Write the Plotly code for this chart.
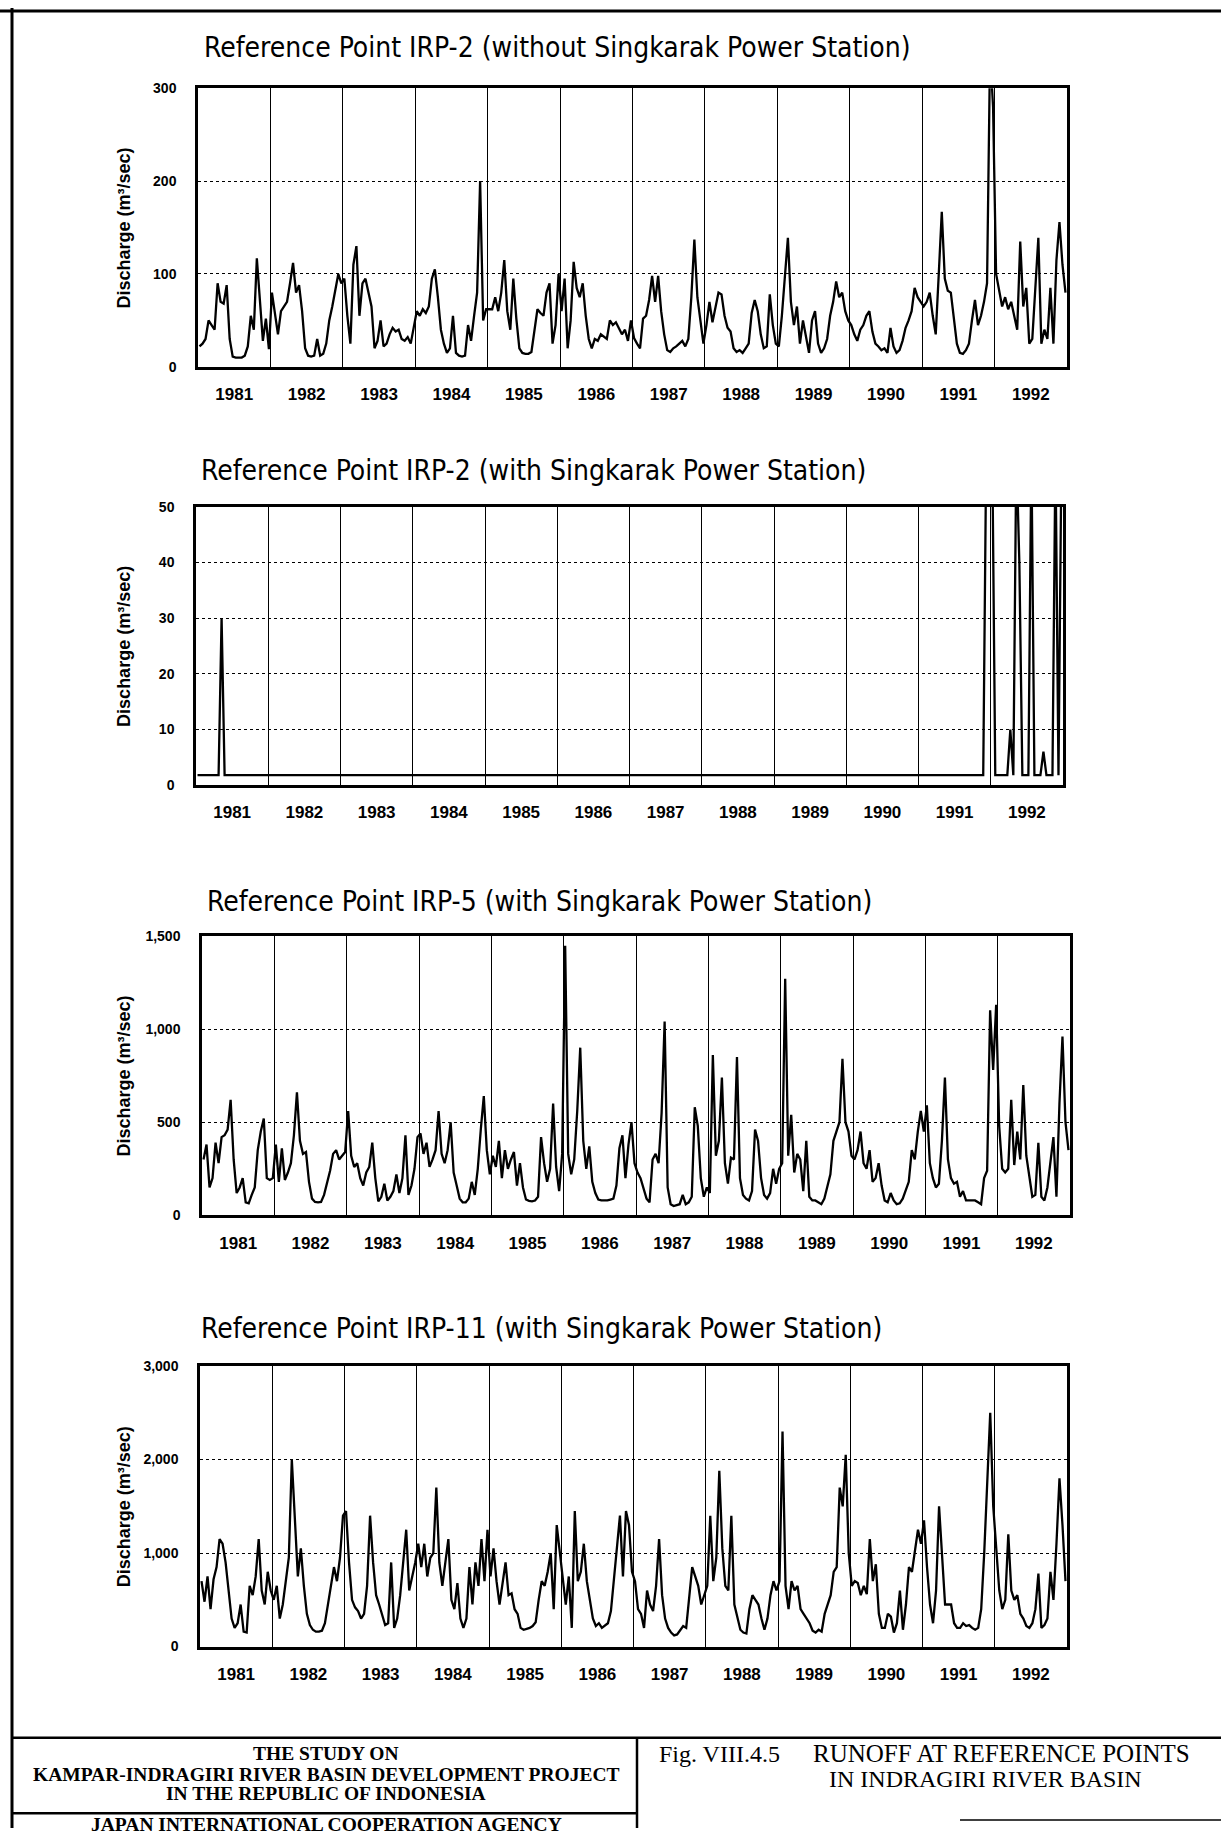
import plotly.graph_objects as go

W, H = 1221, 1836
years = [1981, 1982, 1983, 1984, 1985, 1986, 1987, 1988, 1989, 1990, 1991, 1992]
year_labels = ["1981", "1982", "1983", "1984", "1985", "1986",
               "1987", "1988", "1989", "1990", "1991", "1992"]
PER_YEAR = 24  # half-monthly readings

# Reference Point IRP-2 (without Singkarak Power Station), m3/sec
irp2_without = [
    22, 25, 30, 50, 45, 40, 90, 70, 68, 88, 30, 11, 10, 10, 10, 12, 22, 55, 40, 117, 75, 28, 52, 19,
    80, 55, 35, 60, 65, 70, 90, 112, 80, 88, 60, 20, 12, 11, 12, 30, 12, 14, 25, 50, 65, 85, 100, 90,
    95, 55, 25, 110, 130, 55, 90, 95, 78, 65, 20, 28, 50, 22, 25, 35, 42, 38, 40, 30, 28, 32, 25, 45,
    60, 55, 62, 58, 65, 95, 105, 75, 40, 25, 15, 20, 55, 15, 12, 11, 12, 45, 28, 55, 80, 200, 50, 62,
    62, 62, 75, 60, 80, 115, 60, 40, 95, 52, 20, 15, 14, 14, 16, 40, 62, 58, 55, 80, 90, 25, 45, 100,
    60, 95, 20, 50, 113, 85, 75, 90, 55, 30, 20, 30, 28, 35, 32, 30, 50, 45, 48, 42, 35, 40, 28, 50,
    31, 25, 20, 52, 55, 72, 98, 70, 98, 60, 35, 18, 16, 20, 22, 25, 28, 22, 30, 75, 137, 75, 50, 25,
    45, 70, 48, 65, 80, 78, 55, 42, 38, 20, 16, 18, 15, 20, 25, 58, 72, 60, 35, 20, 22, 78, 45, 25,
    22, 55, 100, 139, 70, 45, 65, 25, 50, 30, 15, 50, 60, 25, 15, 20, 30, 55, 70, 92, 75, 80, 60, 50,
    45, 35, 28, 40, 45, 55, 60, 38, 25, 22, 18, 20, 15, 42, 22, 15, 18, 28, 42, 50, 60, 85, 75, 70,
    65, 70, 80, 55, 35, 100, 167, 95, 82, 80, 55, 25, 15, 14, 18, 25, 50, 72, 45, 55, 70, 90, 340, 280,
    100, 80, 65, 75, 62, 70, 55, 40, 135, 65, 85, 25, 30, 80, 139, 25, 40, 30, 85, 25, 115, 156, 110, 80,
]

# Reference Point IRP-2 (with Singkarak Power Station), m3/sec
irp2_with = [
    1.8, 1.8, 1.8, 1.8, 1.8, 1.8, 1.8, 1.8, 30, 1.8, 1.8, 1.8, 1.8, 1.8, 1.8, 1.8, 1.8, 1.8, 1.8, 1.8, 1.8, 1.8, 1.8, 1.8,
    1.8, 1.8, 1.8, 1.8, 1.8, 1.8, 1.8, 1.8, 1.8, 1.8, 1.8, 1.8, 1.8, 1.8, 1.8, 1.8, 1.8, 1.8, 1.8, 1.8, 1.8, 1.8, 1.8, 1.8,
    1.8, 1.8, 1.8, 1.8, 1.8, 1.8, 1.8, 1.8, 1.8, 1.8, 1.8, 1.8, 1.8, 1.8, 1.8, 1.8, 1.8, 1.8, 1.8, 1.8, 1.8, 1.8, 1.8, 1.8,
    1.8, 1.8, 1.8, 1.8, 1.8, 1.8, 1.8, 1.8, 1.8, 1.8, 1.8, 1.8, 1.8, 1.8, 1.8, 1.8, 1.8, 1.8, 1.8, 1.8, 1.8, 1.8, 1.8, 1.8,
    1.8, 1.8, 1.8, 1.8, 1.8, 1.8, 1.8, 1.8, 1.8, 1.8, 1.8, 1.8, 1.8, 1.8, 1.8, 1.8, 1.8, 1.8, 1.8, 1.8, 1.8, 1.8, 1.8, 1.8,
    1.8, 1.8, 1.8, 1.8, 1.8, 1.8, 1.8, 1.8, 1.8, 1.8, 1.8, 1.8, 1.8, 1.8, 1.8, 1.8, 1.8, 1.8, 1.8, 1.8, 1.8, 1.8, 1.8, 1.8,
    1.8, 1.8, 1.8, 1.8, 1.8, 1.8, 1.8, 1.8, 1.8, 1.8, 1.8, 1.8, 1.8, 1.8, 1.8, 1.8, 1.8, 1.8, 1.8, 1.8, 1.8, 1.8, 1.8, 1.8,
    1.8, 1.8, 1.8, 1.8, 1.8, 1.8, 1.8, 1.8, 1.8, 1.8, 1.8, 1.8, 1.8, 1.8, 1.8, 1.8, 1.8, 1.8, 1.8, 1.8, 1.8, 1.8, 1.8, 1.8,
    1.8, 1.8, 1.8, 1.8, 1.8, 1.8, 1.8, 1.8, 1.8, 1.8, 1.8, 1.8, 1.8, 1.8, 1.8, 1.8, 1.8, 1.8, 1.8, 1.8, 1.8, 1.8, 1.8, 1.8,
    1.8, 1.8, 1.8, 1.8, 1.8, 1.8, 1.8, 1.8, 1.8, 1.8, 1.8, 1.8, 1.8, 1.8, 1.8, 1.8, 1.8, 1.8, 1.8, 1.8, 1.8, 1.8, 1.8, 1.8,
    1.8, 1.8, 1.8, 1.8, 1.8, 1.8, 1.8, 1.8, 1.8, 1.8, 1.8, 1.8, 1.8, 1.8, 1.8, 1.8, 1.8, 1.8, 1.8, 1.8, 1.8, 1.8, 60, 60,
    60, 1.8, 1.8, 1.8, 1.8, 1.8, 10, 1.8, 60, 40, 1.8, 1.8, 1.8, 60, 1.8, 1.8, 1.8, 6, 1.8, 1.8, 1.8, 60, 1.8, 60,
]

# Reference Point IRP-5 (with Singkarak Power Station), m3/sec
irp5_with = [
    300, 380, 150, 200, 390, 280, 420, 430, 460, 620, 300, 120, 150, 200, 70, 65, 110, 150, 350, 450, 520, 200, 190, 200,
    380, 180, 360, 190, 230, 280, 430, 660, 400, 330, 340, 180, 90, 72, 70, 72, 110, 180, 240, 330, 350, 300, 320, 340,
    560, 320, 260, 280, 200, 160, 230, 260, 390, 200, 75, 100, 170, 80, 100, 130, 220, 120, 200, 430, 110, 160, 250, 420,
    440, 330, 390, 260, 300, 350, 560, 330, 280, 350, 500, 230, 160, 90, 70, 70, 90, 180, 110, 250, 460, 640, 350, 220,
    320, 260, 400, 200, 350, 250, 300, 340, 160, 280, 150, 85, 78, 75, 80, 100, 420, 280, 180, 250, 600, 260, 130, 330,
    1447, 330, 220, 300, 560, 900, 400, 250, 370, 180, 120, 85, 80, 80, 80, 85, 90, 160, 360, 430, 200, 380, 500, 280,
    230, 200, 140, 90, 70, 300, 330, 280, 550, 1040, 150, 60, 50, 55, 60, 110, 60, 70, 100, 580, 480, 200, 100, 150,
    120, 860, 320, 400, 740, 280, 170, 310, 300, 850, 200, 110, 90, 80, 130, 460, 400, 200, 110, 90, 120, 250, 170, 250,
    280, 1270, 320, 540, 230, 330, 300, 130, 400, 100, 80, 80, 70, 60, 90, 150, 220, 400, 450, 500, 840, 500, 450, 320,
    300, 350, 450, 280, 250, 350, 180, 200, 280, 160, 80, 70, 120, 80, 60, 65, 90, 130, 180, 350, 300, 450, 560, 450,
    590, 280, 200, 150, 170, 400, 740, 300, 200, 170, 180, 100, 130, 80, 80, 80, 80, 70, 60, 200, 240, 1100, 780, 1130,
    480, 250, 230, 250, 620, 270, 450, 300, 700, 320, 200, 100, 110, 390, 100, 80, 150, 300, 420, 100, 600, 960, 500, 350,
]

# Reference Point IRP-11 (with Singkarak Power Station), m3/sec
irp11_with = [
    700, 480, 750, 400, 720, 850, 1150, 1100, 900, 600, 300, 200, 250, 450, 160, 150, 650, 550, 750, 1150, 600, 450, 800, 600,
    500, 650, 300, 450, 700, 950, 2000, 1300, 750, 1050, 650, 350, 230, 180, 160, 160, 170, 250, 450, 650, 850, 700, 950, 1400,
    1450, 900, 500, 420, 380, 300, 350, 650, 1400, 900, 550, 450, 350, 230, 250, 900, 200, 300, 550, 900, 1250, 600, 750, 900,
    1100, 850, 1100, 750, 950, 1000, 1700, 900, 650, 900, 1150, 500, 400, 680, 300, 200, 300, 850, 450, 900, 650, 1150, 700, 1250,
    750, 1050, 700, 450, 650, 900, 550, 570, 400, 350, 200, 180, 190, 200, 220, 260, 500, 700, 650, 800, 1000, 400, 1300, 1000,
    750, 450, 750, 200, 1450, 700, 800, 1100, 700, 500, 300, 220, 250, 200, 230, 250, 380, 700, 1050, 1400, 750, 1450, 1300, 800,
    700, 400, 350, 200, 600, 450, 380, 650, 1150, 550, 300, 200, 150, 120, 130, 170, 220, 200, 500, 850, 750, 650, 450, 550,
    650, 1400, 700, 950, 1880, 1050, 650, 600, 1400, 450, 300, 180, 150, 140, 400, 550, 500, 450, 300, 180, 300, 550, 700, 600,
    700, 2300, 650, 400, 700, 600, 650, 400, 350, 300, 250, 170, 150, 180, 160, 350, 450, 550, 800, 850, 1700, 1500, 2050, 1000,
    650, 700, 680, 550, 650, 560, 1150, 700, 880, 350, 200, 200, 350, 320, 150, 250, 600, 180, 450, 850, 800, 1000, 1250, 1100,
    1350, 850, 450, 250, 600, 1500, 950, 450, 450, 450, 250, 200, 200, 250, 220, 230, 200, 180, 200, 400, 1000, 1700, 2500, 1500,
    1000, 600, 400, 500, 1200, 600, 500, 550, 350, 300, 220, 200, 250, 400, 780, 200, 230, 300, 800, 500, 1100, 1800, 1300, 700,
]

titles = [
    "Reference Point IRP-2 (without Singkarak Power Station)",
    "Reference Point IRP-2 (with Singkarak Power Station)",
    "Reference Point IRP-5 (with Singkarak Power Station)",
    "Reference Point IRP-11 (with Singkarak Power Station)",
]
series = [irp2_without, irp2_with, irp5_with, irp11_with]
y_max = [300, 50, 1500, 3000]
y_step = [100, 10, 500, 1000]

# layout boxes in page pixels: (left, top, right, bottom)
boxes = [(198, 81, 1067, 362), (196, 503, 1063, 784),
         (202, 936, 1070, 1218), (200, 1370, 1067, 1653)]
title_pos = [(202, 40), (199, 467), (205, 901), (199, 1332)]

TITLE_FONT = "'DejaVu Sans Condensed', 'Liberation Sans Narrow', 'DejaVu Sans', sans-serif"
AX_FONT = "'Liberation Sans', Arial, sans-serif"
SERIF = "'Liberation Serif', 'Times New Roman', serif"


def px_x(v):
    return v / W


def px_y(v):
    return 1 - v / H


fig = go.Figure()
annotations = []
shapes = []

for k in range(4):
    vals = series[k]
    x = [years[0] + (i + 0.5) / PER_YEAR for i in range(len(vals))]
    xa = "x" if k == 0 else f"x{k+1}"
    ya = "y" if k == 0 else f"y{k+1}"
    fig.add_trace(go.Scatter(x=x, y=vals, mode="lines", xaxis=xa, yaxis=ya,
                             line=dict(color="black", width=2.3), showlegend=False,
                             hoverinfo="skip"))
    l, t, r, b = boxes[k]
    xname = "xaxis" if k == 0 else f"xaxis{k+1}"
    yname = "yaxis" if k == 0 else f"yaxis{k+1}"
    fig.layout[xname] = dict(
        domain=[px_x(l), px_x(r)], anchor=ya, range=[years[0], years[-1] + 1],
        tickmode="array", tickvals=[yv + 0.5 for yv in years], ticktext=year_labels,
        ticks="", showgrid=False, zeroline=False,
        showline=True, mirror=True, linecolor="black", linewidth=2.5,
        tickfont=dict(family=AX_FONT, size=17, color="black", weight="bold"),
        ticklabelstandoff=10,
        minor=dict(tickmode="array", tickvals=years[1:], showgrid=True,
                   gridcolor="black", gridwidth=1.2, griddash="solid", ticks=""),
    )
    fig.layout[yname] = dict(
        domain=[px_y(b), px_y(t)], anchor=xa, range=[0, y_max[k]],
        tickmode="linear", tick0=0, dtick=y_step[k], tickformat=",d",
        ticks="", showgrid=True, gridcolor="black", gridwidth=1.4, griddash="dot",
        zeroline=False, showline=True, mirror=True, linecolor="black", linewidth=2.5,
        tickfont=dict(family=AX_FONT, size=14, color="black", weight="bold"),
        ticklabelstandoff=16,
    )
    tx, ty = title_pos[k]
    annotations.append(dict(text=titles[k], x=px_x(tx), y=px_y(ty), xref="paper", yref="paper",
                            xanchor="left", yanchor="middle", showarrow=False,
                            font=dict(family=TITLE_FONT, size=28, color="black")))
    annotations.append(dict(text="Discharge (m³/sec)", x=px_x(124), y=px_y((t + b) / 2),
                            xref="paper", yref="paper", xanchor="center", yanchor="middle",
                            textangle=-90, showarrow=False,
                            font=dict(family=AX_FONT, size=18, color="black", weight="bold")))

# title block at bottom of the sheet
block_left = [("THE STUDY ON", 1761), ("KAMPAR-INDRAGIRI RIVER BASIN DEVELOPMENT PROJECT", 1782),
              ("IN THE REPUBLIC OF INDONESIA", 1801), ("JAPAN INTERNATIONAL COOPERATION AGENCY", 1832)]
for txt, yy in block_left:
    annotations.append(dict(text=txt, x=px_x(326), y=px_y(yy), xref="paper", yref="paper",
                            xanchor="center", yanchor="middle", showarrow=False,
                            font=dict(family=SERIF, size=19.5, color="black", weight="bold")))
annotations.append(dict(text="Fig. VIII.4.5", x=px_x(657), y=px_y(1761), xref="paper", yref="paper",
                        xanchor="left", yanchor="middle", showarrow=False,
                        font=dict(family=SERIF, size=24, color="black")))
annotations.append(dict(text="RUNOFF AT REFERENCE POINTS", x=px_x(811), y=px_y(1761), xref="paper",
                        yref="paper", xanchor="left", yanchor="middle", showarrow=False,
                        font=dict(family=SERIF, size=25, color="black")))
annotations.append(dict(text="IN INDRAGIRI RIVER BASIN", x=px_x(827), y=px_y(1787), xref="paper",
                        yref="paper", xanchor="left", yanchor="middle", showarrow=False,
                        font=dict(family=SERIF, size=24, color="black")))

line = dict(color="black", width=2.5)
shapes += [
    dict(type="line", xref="paper", yref="paper", x0=0, x1=1, y0=px_y(3), y1=px_y(3), line=dict(color="black", width=3)),
    dict(type="line", xref="paper", yref="paper", x0=px_x(12), x1=px_x(12), y0=px_y(0), y1=px_y(H), line=dict(color="black", width=3)),
    dict(type="line", xref="paper", yref="paper", x0=px_x(12), x1=1, y0=px_y(1745), y1=px_y(1745), line=line),
    dict(type="line", xref="paper", yref="paper", x0=px_x(637), x1=px_x(637), y0=px_y(1745), y1=px_y(H), line=line),
    dict(type="line", xref="paper", yref="paper", x0=px_x(12), x1=px_x(637), y0=px_y(1821), y1=px_y(1821), line=line),
    dict(type="line", xref="paper", yref="paper", x0=px_x(960), x1=1, y0=px_y(1828), y1=px_y(1828), line=dict(color="black", width=1.5)),
]

fig.update_layout(
    width=W, height=H, margin=dict(l=0, r=0, t=0, b=0),
    paper_bgcolor="white", plot_bgcolor="white",
    annotations=annotations, shapes=shapes, showlegend=False,
)

fig.write_html("out.html", config={"displayModeBar": False},
               post_script="document.documentElement.style.margin='0';document.body.style.margin='0';document.body.style.overflow='hidden';")
